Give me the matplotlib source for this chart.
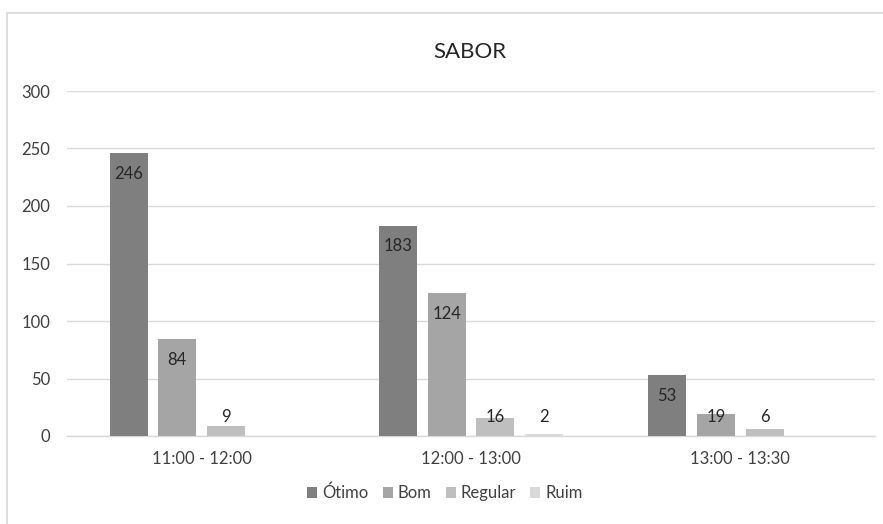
import numpy as np
import matplotlib
matplotlib.use("Agg")
import matplotlib.pyplot as plt
from matplotlib.patches import Rectangle, Patch

plt.rcParams['font.family'] = ['Lato', 'DejaVu Sans']

# Data
categories = ["11:00 - 12:00", "12:00 - 13:00", "13:00 - 13:30"]
series_names = ["Ótimo", "Bom", "Regular", "Ruim"]
otimo = [246, 183, 53]
bom = [84, 124, 19]
regular = [9, 16, 6]
ruim = [np.nan, 2, np.nan]
series_values = [otimo, bom, regular, ruim]
colors = ["#7f7f7f", "#a5a5a5", "#bfbfbf", "#d9d9d9"]
yticks = [0, 50, 100, 150, 200, 250, 300]

W, H = 883, 524
fig = plt.figure(figsize=(W / 100, H / 100), dpi=100)
fig.patch.set_facecolor("white")

# Chart frame (left and top edges visible)
fig.add_artist(Rectangle((7.5 / W, -0.1), 1.2, 1 - 13.5 / H + 0.1,
                         transform=fig.transFigure, fill=False,
                         edgecolor="#d9d9d9", linewidth=1.3))

ax = fig.add_axes([67 / W, 1 - 436 / H, (875 - 67) / W, (436 - 91) / H])
ax.set_xlim(-0.5, 2.5)
ax.set_ylim(0, 300)

x = np.arange(len(categories))
step = 0.181
bw = 0.141
text_color = "#404040"
label_color = "#262626"
for i, (name, vals, c) in enumerate(zip(series_names, series_values, colors)):
    offs = (i - 1.5) * step
    ax.bar(x + offs, vals, width=bw, color=c, label=name, zorder=3)
    for xi, v in zip(x, vals):
        if np.isnan(v):
            continue
        ypos = max(v - 18, 16.5)
        ax.text(xi + offs, ypos, f"{int(v)}", ha="center", va="center",
                fontsize=12, color=label_color, zorder=4)

ax.set_yticks(yticks)
ax.set_xticks(x)
ax.set_xticklabels(categories)
ax.grid(axis="y", color="#d9d9d9", linewidth=1, zorder=0)
ax.set_axisbelow(True)
for s in ["top", "right", "left"]:
    ax.spines[s].set_visible(False)
ax.spines["bottom"].set_color("#d9d9d9")
ax.spines["bottom"].set_linewidth(1)
ax.tick_params(axis="both", length=0, labelsize=12, colors=text_color)
ax.tick_params(axis="y", pad=12)
ax.tick_params(axis="x", pad=11)

fig.text(470 / W, 1 - 52 / H, "SABOR", ha="center", va="center",
         fontsize=16, color=label_color)

handles = [Patch(facecolor=c, edgecolor="none") for c in colors]
fig.legend(handles, series_names, loc="center", bbox_to_anchor=(445 / W, 1 - 493 / H),
           ncol=4, frameon=False, fontsize=12, handlelength=0.6, handleheight=0.6,
           handletextpad=0.3, columnspacing=0.85, labelcolor=text_color)

fig.savefig("out.png", dpi=100)
